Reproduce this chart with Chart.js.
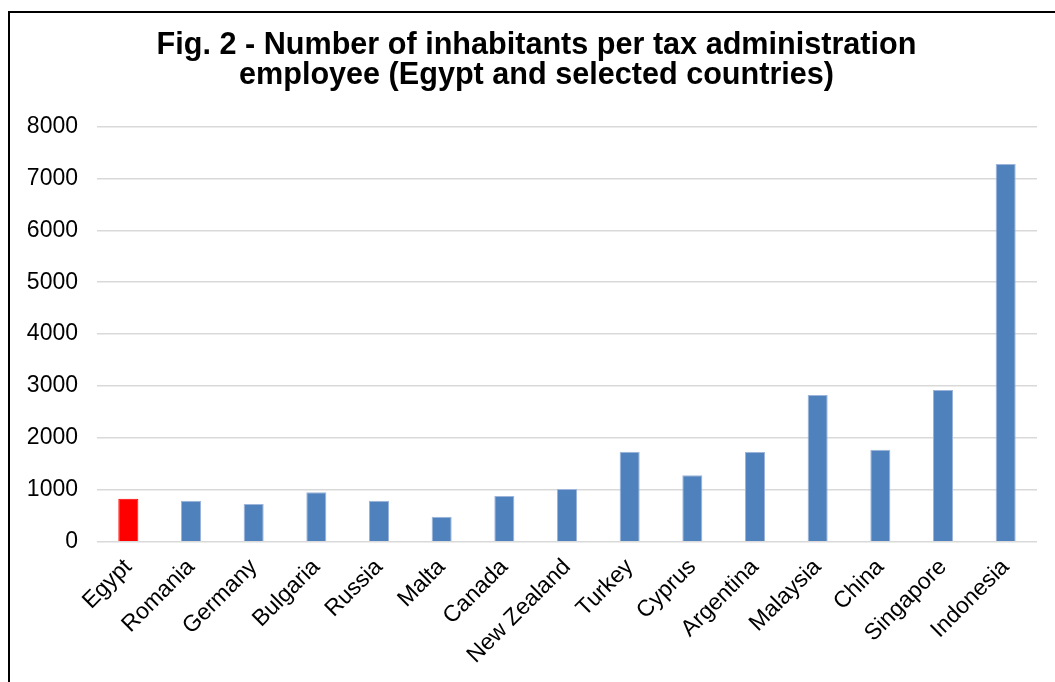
<!DOCTYPE html>
<html>
<head>
<meta charset="utf-8">
<script src="https://cdn.jsdelivr.net/npm/chart.js@4"></script>
<style>
  html, body { margin: 0; padding: 0; background: #fff; }
  #wrap { position: relative; width: 1055px; height: 682px; overflow: hidden; }
  #frame { position: absolute; left: 8px; top: 11px; width: 1100px; height: 700px; border: 2px solid #000; box-sizing: border-box; pointer-events: none; }
  canvas { position: absolute; left: 0; top: 0; }
</style>
</head>
<body>
<div id="wrap">
  <canvas id="chart" width="1055" height="682"></canvas>
  <div id="frame"></div>
</div>
<script>
// Fig. 2 data
const countries = ["Egypt", "Romania", "Germany", "Bulgaria", "Russia", "Malta", "Canada",
  "New Zealand", "Turkey", "Cyprus", "Argentina", "Malaysia", "China", "Singapore", "Indonesia"];
const inhabitants = [829, 790, 726, 950, 790, 482, 880, 1015, 1734, 1278, 1728, 2826, 1773, 2922, 7277];
const yTicks = [0, 1000, 2000, 3000, 4000, 5000, 6000, 7000, 8000];

const barColors = countries.map(c => c === "Egypt" ? "#ff0000" : "#4f81bd");
const fontFamily = "'Liberation Sans', Arial, Helvetica, sans-serif";

// nudge the title so it sits centred like the original figure
const shiftTitle = {
  id: "shiftTitle",
  afterLayout(chart) {
    if (chart.titleBlock) chart.titleBlock.left += 36;
  }
};

new Chart(document.getElementById("chart"), {
  type: "bar",
  data: {
    labels: countries,
    datasets: [{
      data: inhabitants,
      backgroundColor: barColors,
      borderColor: countries.map(c => c === "Egypt" ? "#ff0000" : "#9db5da"),
      borderWidth: 1,
      barPercentage: 0.32,
      categoryPercentage: 1
    }]
  },
  options: {
    responsive: false,
    animation: false,
    layout: { padding: { left: 0, right: 18, top: 14, bottom: 9 } },
    plugins: {
      legend: { display: false },
      tooltip: { enabled: false },
      title: {
        display: true,
        text: ["Fig. 2 - Number of inhabitants per tax administration", "employee (Egypt and selected countries)"],
        color: "#000",
        font: { family: fontFamily, size: 30.6, weight: "bold", lineHeight: 0.99 },
        padding: { top: 16, bottom: 36 }
      }
    },
    scales: {
      x: {
        grid: { display: false },
        border: { display: false },
        ticks: {
          color: "#000",
          font: { family: fontFamily, size: 23 },
          minRotation: 45,
          maxRotation: 45,
          autoSkip: false,
          padding: 4
        }
      },
      y: {
        min: 0,
        max: 8000,
        afterBuildTicks: scale => { scale.ticks = yTicks.map(v => ({ value: v })); },
        afterFit: scale => { scale.width = 97; },
        grid: { color: "#d9d9d9", lineWidth: 1.5, drawTicks: false },
        border: { display: false },
        ticks: {
          color: "#000",
          font: { family: fontFamily, size: 23 },
          padding: 19,
          callback: v => String(v)
        }
      }
    }
  },
  plugins: [shiftTitle]
});
</script>
</body>
</html>
